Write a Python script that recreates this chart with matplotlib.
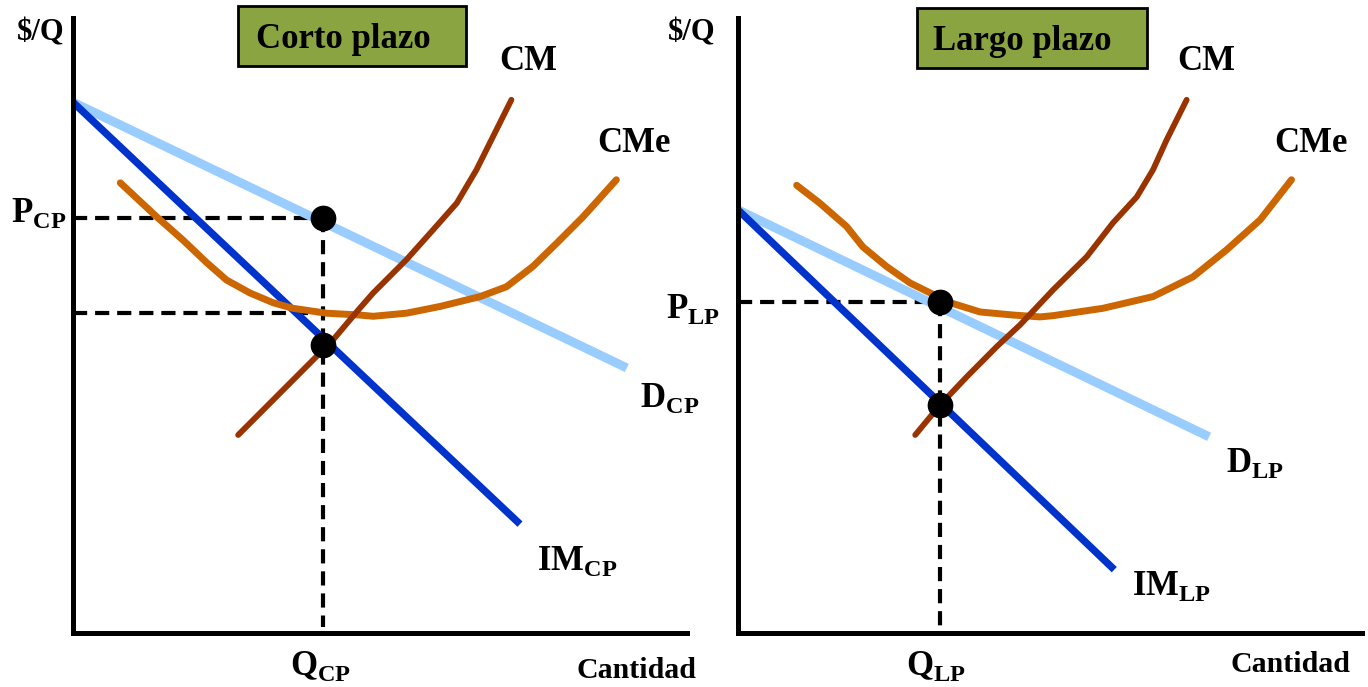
import matplotlib.pyplot as plt
from matplotlib.patches import Rectangle

W, H = 1368, 687

# ---- short run panel (quantity and $/Q in axis units 0..10) ----
d_cp_q = [0.0, 9.02]
d_cp_p = [8.63, 4.31]
im_cp_q = [0.0, 7.28]
im_cp_p = [8.63, 1.77]
cm_cp_q = [2.69, 3.15, 3.58, 3.91, 4.23, 4.67, 4.89, 5.43, 5.86, 6.25, 6.57, 6.84, 7.14]
cm_cp_p = [3.22, 3.68, 4.11, 4.44, 4.76, 5.28, 5.53, 6.07, 6.55, 6.99, 7.53, 8.07, 8.67]
cme_cp_q = [0.77, 1.36, 1.79, 2.18, 2.50, 2.88, 3.26, 3.58, 4.13, 4.67, 4.89,
            5.43, 5.98, 6.63, 7.06, 7.49, 7.88, 8.31, 8.85]
cme_cp_p = [7.32, 6.77, 6.39, 6.02, 5.74, 5.53, 5.37, 5.28, 5.20, 5.17, 5.15,
            5.20, 5.31, 5.47, 5.63, 5.96, 6.34, 6.77, 7.37]
q_cp = 4.07
p_cp = 6.75
cm_cp_at_q = 4.68
cme_cp_at_q = 5.20

# ---- long run panel ----
d_lp_q = [0.0, 7.55]
d_lp_p = [6.88, 3.19]
im_lp_q = [0.0, 6.03]
im_lp_p = [6.88, 1.03]
cm_lp_q = [2.84, 3.24, 3.67, 4.15, 4.52, 5.05, 5.59, 6.01, 6.39, 6.65, 6.87, 7.19]
cm_lp_p = [3.22, 3.71, 4.17, 4.66, 5.01, 5.58, 6.12, 6.67, 7.09, 7.53, 8.02, 8.67]
cme_lp_q = [0.94, 1.31, 1.74, 2.00, 2.38, 2.76, 3.08, 3.34, 3.88, 4.41, 4.84,
            5.05, 5.85, 6.65, 7.29, 7.83, 8.37, 8.87]
cme_lp_p = [7.28, 6.99, 6.61, 6.28, 5.96, 5.69, 5.53, 5.39, 5.22, 5.17, 5.14,
            5.16, 5.28, 5.47, 5.79, 6.23, 6.72, 7.37]
q_lp = 3.24
p_lp = 5.39
cm_lp_at_q = 3.71

LIGHT_BLUE = '#99ccff'
BLUE = '#0033cc'
BROWN = '#993300'
ORANGE = '#cc6600'
OLIVE = '#8ba442'

plt.rcParams['font.family'] = 'Liberation Serif'
plt.rcParams['font.weight'] = 'bold'
plt.rcParams['mathtext.fontset'] = 'custom'
plt.rcParams['mathtext.rm'] = 'Liberation Serif:bold'
plt.rcParams['mathtext.bf'] = 'Liberation Serif:bold'

fig = plt.figure(figsize=(W / 100, H / 100), dpi=100)


def fx(x):
    return x / W


def fy(y):
    return 1 - y / H


def sub(main, s):
    return r'$\mathbf{%s}_{\mathbf{%s}}$' % (main, s)


def panel(left, right, d_q, d_p, im_q, im_p, cm_q, cm_p, cme_q, cme_p):
    ax = fig.add_axes([fx(left), fy(633), fx(right - left), fy(18) - fy(633)])
    ax.set_xlim(0, 10)
    ax.set_ylim(0, 10)
    for s in ['top', 'right']:
        ax.spines[s].set_visible(False)
    for s in ['left', 'bottom']:
        ax.spines[s].set_linewidth(3.6)
    ax.set_xticks([])
    ax.set_yticks([])
    ax.patch.set_alpha(0)
    ax.plot(d_q, d_p, color=LIGHT_BLUE, lw=6.5, solid_capstyle='butt')
    ax.plot(im_q, im_p, color=BLUE, lw=5.3, solid_capstyle='butt')
    ax.plot(cme_q, cme_p, color=ORANGE, lw=5, solid_capstyle='round', solid_joinstyle='round')
    ax.plot(cm_q, cm_p, color=BROWN, lw=4.2, solid_capstyle='round', solid_joinstyle='round')
    return ax


dash = dict(color='black', lw=3, dashes=(3.4, 1.9), zorder=1)

# short run
ax1 = panel(73, 687, d_cp_q, d_cp_p, im_cp_q, im_cp_p, cm_cp_q, cm_cp_p, cme_cp_q, cme_cp_p)
ax1.plot([0, q_cp], [p_cp, p_cp], **dash)
ax1.plot([0, q_cp], [cme_cp_at_q, cme_cp_at_q], **dash)
ax1.plot([q_cp, q_cp], [p_cp, 0.1], **dash)
ax1.plot([q_cp, q_cp], [p_cp, cm_cp_at_q], 'o', color='black', ms=17.5, zorder=5)

# long run
ax2 = panel(738, 1362, d_lp_q, d_lp_p, im_lp_q, im_lp_p, cm_lp_q, cm_lp_p, cme_lp_q, cme_lp_p)
ax2.plot([0, q_lp], [p_lp, p_lp], **dash)
ax2.plot([q_lp, q_lp], [p_lp, 0.1], **dash)
ax2.plot([q_lp, q_lp], [p_lp, cm_lp_at_q], 'o', color='black', ms=17.5, zorder=5)

# title boxes
for (x0, x1, y0, y1, tx, base, label) in [(238, 466, 6, 66, 343, 48, 'Corto plazo'),
                                          (917, 1147, 8, 68, 1022, 50, 'Largo plazo')]:
    fig.add_artist(Rectangle((fx(x0), fy(y1)), fx(x1 - x0), fy(y0) - fy(y1),
                             transform=fig.transFigure, fc=OLIVE, ec='black', lw=2))
    fig.text(fx(tx), fy(base), label, ha='center', va='baseline',
             fontsize=25, fontweight='bold')

# labels
txt = dict(fontsize=25, fontweight='bold', va='baseline')
fig.text(fx(41), fy(40), '$/Q', ha='center', va='baseline', fontsize=22, fontweight='bold')
fig.text(fx(692), fy(40), '$/Q', ha='center', va='baseline', fontsize=22, fontweight='bold')
fig.text(fx(528), fy(70), 'CM', ha='center', **txt)
fig.text(fx(634), fy(152), 'CMe', ha='center', **txt)
fig.text(fx(1206), fy(70), 'CM', ha='center', **txt)
fig.text(fx(1311), fy(152), 'CMe', ha='center', **txt)

fig.text(fx(66), fy(222), sub('P', 'CP'), ha='right', **txt)
fig.text(fx(640), fy(407), sub('D', 'CP'), ha='left', **txt)
fig.text(fx(537), fy(570), sub('IM', 'CP'), ha='left', **txt)
fig.text(fx(290), fy(675), sub('Q', 'CP'), ha='left', **txt)
fig.text(fx(636), fy(678), 'Cantidad', ha='center', va='baseline', fontsize=21.5, fontweight='bold')

fig.text(fx(720), fy(318), sub('P', 'LP'), ha='right', **txt)
fig.text(fx(1226), fy(472), sub('D', 'LP'), ha='left', **txt)
fig.text(fx(1132), fy(595), sub('IM', 'LP'), ha='left', **txt)
fig.text(fx(906), fy(675), sub('Q', 'LP'), ha='left', **txt)
fig.text(fx(1290), fy(672), 'Cantidad', ha='center', va='baseline', fontsize=21.5, fontweight='bold')

fig.savefig('out.png', dpi=100, facecolor='white')
